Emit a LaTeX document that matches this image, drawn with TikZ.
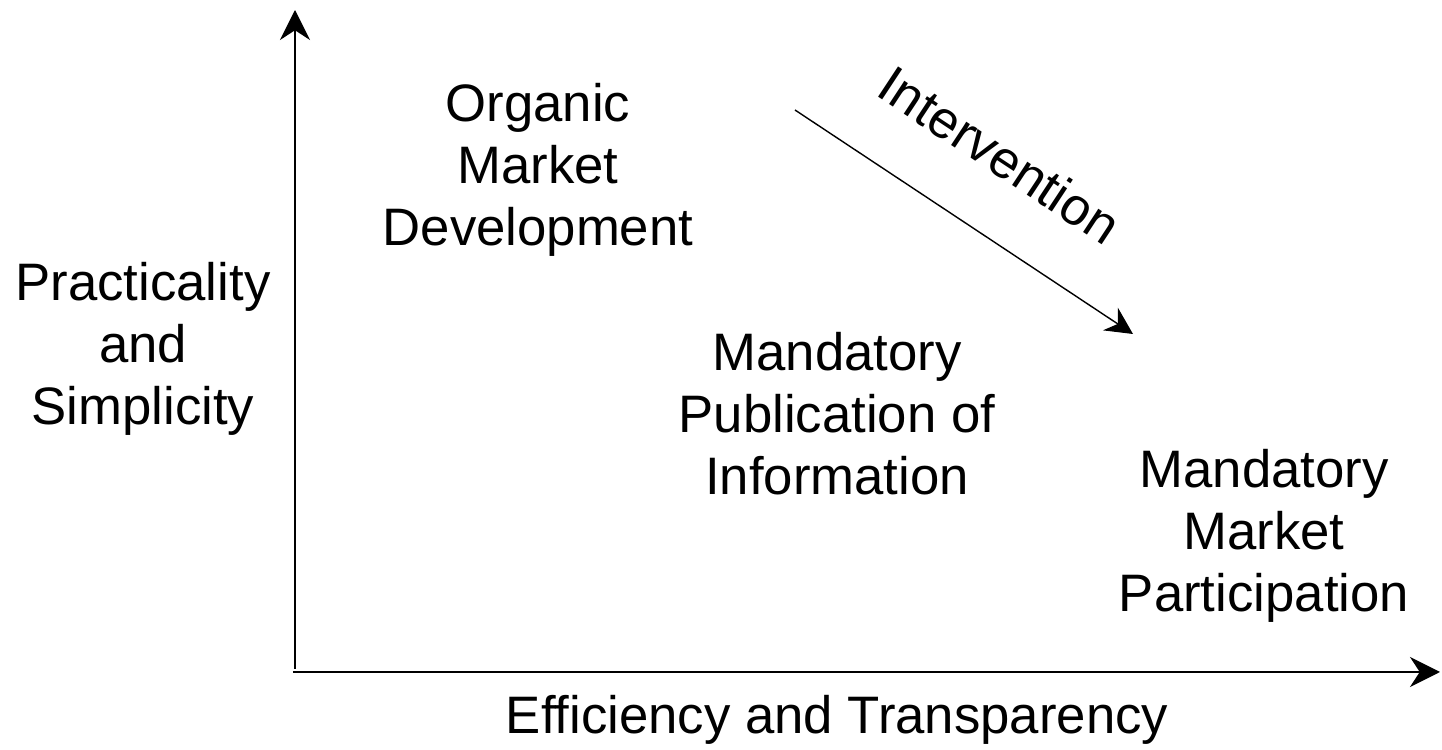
\documentclass[tikz,border=0pt]{standalone}
\usepackage{fontspec}
\setmainfont{Liberation Sans}
\usetikzlibrary{arrows.meta,positioning}

\begin{document}
\begin{tikzpicture}
	\tikzstyle{lbl}=[align=center, font=\fontsize{15}{17.6}\selectfont]
	\tikzstyle{axis}=[line width=0.6pt, -{Stealth[length=3mm,width=3mm]}]
	\tikzstyle{push}=[line width=0.4pt, -{Stealth[length=2.7mm,width=2.7mm]}]
	\useasboundingbox (0,0) rectangle (14.42,7.5);

	\coordinate (o1) at (2.95,0.81);
	\coordinate (o2) at (2.93,0.78);
	\coordinate (ytop) at (2.95,7.40);
	\coordinate (xend) at (14.40,0.78);
	\coordinate (ps) at (7.95,6.40);
	\coordinate (pe) at (11.33,4.16);

	\node[lbl] (yl) at (1.43,4.01) {Practicality\\and\\Simplicity};
	\node[lbl] (xl) at (8.37,0.30) {Efficiency and Transparency};
	\node[lbl] (org) at (5.38,5.80) {Organic\\Market\\Development};
	\node[lbl] (pub) at (8.37,3.36) {Mandatory\\Publication of\\Information};
	\node[lbl] (par) at (12.64,2.14) {Mandatory\\Market\\Participation};
	\node[lbl, rotate=-33.4] (int) at (10.00,5.95) {Intervention};

	\draw[axis] (o1) -- (ytop);
	\draw[axis] (o2) -- (xend);
	\draw[push] (ps) -- (pe);
     \end{tikzpicture}
\end{document}
